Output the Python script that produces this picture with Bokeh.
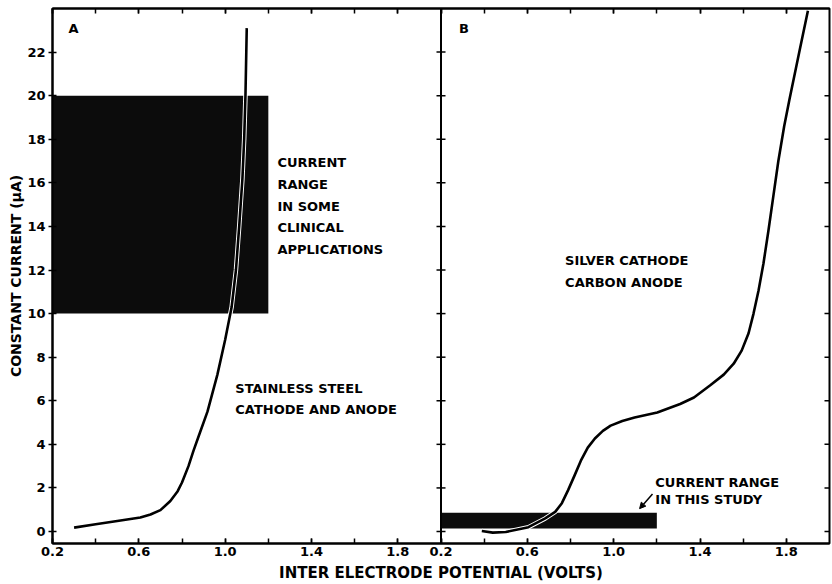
import numpy as np
from bokeh.plotting import figure
from bokeh.models import (Range1d, LinearAxis, FixedTicker, Span, Label, Arrow,
                          NormalHead, CustomJSTickFormatter)
from bokeh.embed import file_html
from bokeh.resources import INLINE

# ---------------- data ----------------
# Panel A: stainless steel cathode and anode
A_VOLTS = [0.30, 0.40, 0.50, 0.607, 0.654, 0.70, 0.746, 0.78, 0.80, 0.83, 0.853,
           0.88, 0.918, 0.964, 1.00, 1.03, 1.05, 1.065, 1.08, 1.088, 1.094, 1.10]
A_CURRENT = [0.18, 0.33, 0.48, 0.64, 0.78, 0.98, 1.40, 1.85, 2.25, 3.0, 3.7,
             4.45, 5.5, 7.2, 8.8, 10.3, 12.0, 14.0, 16.2, 18.0, 20.0, 23.1]

# Panel B: silver cathode, carbon anode
B_VOLTS = [0.389, 0.44, 0.50, 0.605, 0.683, 0.729, 0.76, 0.789, 0.82, 0.848, 0.88,
           0.913, 0.95, 0.986, 1.04, 1.097, 1.202, 1.308, 1.372, 1.446, 1.51, 1.556,
           1.593, 1.625, 1.648, 1.671, 1.694, 1.717, 1.74, 1.763, 1.79, 1.814, 1.86, 1.90]
B_CURRENT = [0.02, -0.05, -0.02, 0.2, 0.6, 0.9, 1.3, 1.9, 2.6, 3.25, 3.85,
             4.27, 4.62, 4.86, 5.07, 5.23, 5.46, 5.85, 6.15, 6.7, 7.2, 7.7,
             8.3, 9.1, 10.0, 11.05, 12.3, 13.8, 15.4, 17.0, 18.6, 19.8, 22.0, 23.9]

# shaded current ranges (volts from/to, current from/to)
A_BAND_V = [0.2, 1.2]
A_BAND_I = [10.0, 20.0]
B_BAND_V = [0.2, 1.2]
B_BAND_I = [0.14, 0.86]

X_TICKS_ALL = [0.2, 0.4, 0.6, 0.8, 1.0, 1.2, 1.4, 1.6, 1.8]
X_TICK_LABELS = ["0.2", "0.6", "1.0", "1.4", "1.8"]
Y_TICKS = [0, 2, 4, 6, 8, 10, 12, 14, 16, 18, 20, 22]

V_MIN, V_MAX = 0.2, 2.0
I_MIN, I_MAX = -0.55, 24.0
B_SHIFT = V_MAX - V_MIN

FONT = "DejaVu Sans"

# ---------------- figure ----------------
p = figure(width=832, height=584, output_backend="svg", toolbar_location=None,
           x_range=Range1d(V_MIN, V_MAX + B_SHIFT), y_range=Range1d(I_MIN, I_MAX),
           min_border_left=52, min_border_right=3, min_border_top=8, min_border_bottom=40,
           x_axis_location=None, y_axis_location=None)
p.extra_x_ranges = {"b": Range1d(V_MIN - B_SHIFT, V_MAX)}
p.grid.visible = False
p.outline_line_color = "black"
p.outline_line_width = 2
p.background_fill_color = "white"
p.border_fill_color = "white"

labeled = [float(t) for t in X_TICK_LABELS]
major = [round(t, 6) for t in labeled] + [round(t + B_SHIFT, 6) for t in labeled]
minor = [round(t, 6) for t in X_TICKS_ALL] + [round(t + B_SHIFT, 6) for t in X_TICKS_ALL]
overrides = {}
for t, lab in zip(labeled, X_TICK_LABELS):
    overrides[round(t, 6)] = lab
    overrides[round(t + B_SHIFT, 6)] = lab

def style_axis(ax, label_size="14px"):
    ax.axis_line_width = 2
    ax.axis_line_color = "black"
    ax.major_tick_line_width = 1.5
    ax.minor_tick_line_width = 1.5
    ax.major_label_text_font = FONT
    ax.major_label_text_font_style = "bold"
    ax.major_label_text_font_size = "13px"
    ax.major_label_text_color = "black"
    ax.axis_label_text_font = FONT
    ax.axis_label_text_font_style = "bold"
    ax.axis_label_text_font_size = label_size
    ax.axis_label_text_color = "black"

blank = CustomJSTickFormatter(code="return ''")

xb = LinearAxis(ticker=FixedTicker(ticks=major, minor_ticks=minor),
                axis_label="INTER ELECTRODE POTENTIAL (VOLTS)")
style_axis(xb, "15px")
xb.major_label_overrides = overrides
xb.major_tick_in = 5
xb.major_tick_out = 0
xb.minor_tick_in = 5
xb.minor_tick_out = 0
xb.major_label_standoff = 3
xb.axis_label_standoff = 5
p.add_layout(xb, "below")

xt = LinearAxis(ticker=FixedTicker(ticks=major, minor_ticks=minor), formatter=blank)
style_axis(xt)
xt.major_tick_in = 5
xt.major_tick_out = 0
xt.minor_tick_in = 5
xt.minor_tick_out = 0
xt.major_label_standoff = 0
p.add_layout(xt, "above")

yl = LinearAxis(ticker=FixedTicker(ticks=Y_TICKS), axis_label="CONSTANT CURRENT (\u03bcA)")
style_axis(yl, "14px")
yl.major_tick_in = 4
yl.major_tick_out = 4
yl.minor_tick_line_color = None
yl.major_label_standoff = 3
yl.axis_label_standoff = 0
p.add_layout(yl, "left")

# divider between panels (panel B's left axis) with crossing ticks
p.add_layout(Span(location=V_MIN, dimension="height", x_range_name="b",
                  line_color="black", line_width=2))
p.dash(x=[V_MIN] * len(Y_TICKS), y=Y_TICKS, x_range_name="b", size=9,
       line_color="black", line_width=1.5)
# inward ticks on the right edge (outer half clipped by the frame)
p.dash(x=[V_MAX] * len(Y_TICKS), y=Y_TICKS, x_range_name="b", size=10,
       line_color="black", line_width=1.5)

# shaded current ranges
p.quad(left=[A_BAND_V[0]], right=[A_BAND_V[1]], bottom=[A_BAND_I[0]], top=[A_BAND_I[1]],
       fill_color="#0c0c0c", line_color=None)
p.quad(left=[B_BAND_V[0]], right=[B_BAND_V[1]], bottom=[B_BAND_I[0]], top=[B_BAND_I[1]],
       fill_color="#0c0c0c", line_color=None, x_range_name="b")

# curves (white halo shows the trace over the dark bands)
p.line(A_VOLTS, A_CURRENT, line_color="white", line_width=4.5, line_join="round")
p.line(A_VOLTS, A_CURRENT, line_color="black", line_width=2.6, line_join="round")
p.line(B_VOLTS, B_CURRENT, line_color="white", line_width=4.5, line_join="round",
       x_range_name="b")
p.line(B_VOLTS, B_CURRENT, line_color="black", line_width=2.6, line_join="round",
       x_range_name="b")

def lab(x, y, text, rng="default"):
    p.add_layout(Label(x=x, y=y, text=text, x_range_name=rng, text_font=FONT,
                       text_font_style="bold", text_font_size="13px",
                       text_color="black", text_baseline="middle", text_align="left"))

lab(0.274, 23.1, "A")
lab(0.283, 23.07, "B", "b")
for i, t in enumerate(["CURRENT", "RANGE", "IN SOME", "CLINICAL", "APPLICATIONS"]):
    lab(1.242, 16.93 - i * 1.0, t)
lab(1.047, 6.56, "STAINLESS STEEL")
lab(1.047, 5.6, "CATHODE AND ANODE")
lab(0.775, 12.43, "SILVER CATHODE", "b")
lab(0.775, 11.42, "CARBON ANODE", "b")
lab(1.193, 2.25, "CURRENT RANGE", "b")
lab(1.193, 1.47, "IN THIS STUDY", "b")

p.add_layout(Arrow(end=NormalHead(size=6, fill_color="black", line_color="black"),
                   x_start=1.18, y_start=1.72, x_end=1.12, y_end=1.05,
                   x_range_name="b", line_color="black", line_width=1.5))

open("out.html", "w").write(file_html(p, INLINE))
